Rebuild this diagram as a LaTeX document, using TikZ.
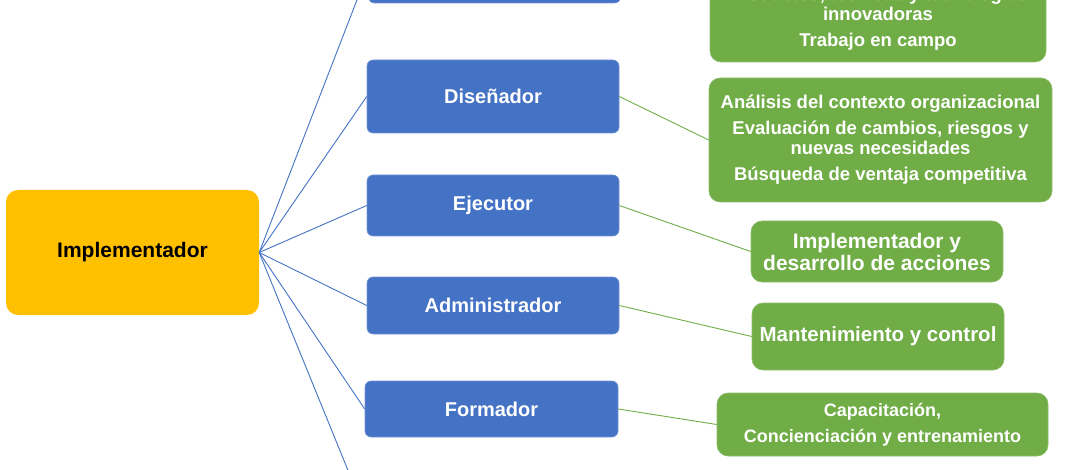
\documentclass[tikz,border=0pt]{standalone}
\usepackage{fontspec}
\setmainfont{Liberation Sans}
\definecolor{RoleBlue}{HTML}{4472C4}
\definecolor{IdeaGreen}{HTML}{70AD47}
\definecolor{RootYellow}{HTML}{FFC000}
\begin{document}
\begin{tikzpicture}[x=1pt,y=-1pt,
  rootbox/.style={fill=RootYellow, rounded corners=12pt, minimum width=253pt, minimum height=125pt, inner sep=0pt,
    font=\bfseries\fontsize{21}{25}\selectfont, text=black},
  rolebox/.style={fill=RoleBlue, draw=RoleBlue!75!white, line width=0.6pt, rounded corners=6pt, text=white,
    minimum width=252pt, inner sep=0pt, font=\bfseries\fontsize{20}{24}\selectfont},
  ideabox/.style={fill=IdeaGreen, draw=IdeaGreen!80!white, line width=0.6pt, rounded corners=11pt, text=white,
    inner sep=0pt, align=center},
  ideatext/.style={text=white, inner sep=0pt, align=center},
  rootlink/.style={draw=RoleBlue, line width=0.9pt},
  idealink/.style={draw=IdeaGreen, line width=0.9pt}]
\useasboundingbox (0,0) rectangle (1070,470);
\clip (0,0) rectangle (1070,470);

% root
\node[rootbox] (root) at (132.5,252.5) {Implementador};

% roles
\node[rolebox, minimum height=64pt] (r0) at (494.5,-29) {};
\node[rolebox, minimum height=73pt] (r1) at (493,96.5) {Diseñador};
\node[rolebox, minimum height=61pt] (r2) at (493,205.5) {Ejecutor};
\node[rolebox, minimum height=57pt] (r3) at (493,305.5) {Administrador};
\node[rolebox, minimum height=56pt, minimum width=253pt] (r4) at (491.5,409) {Formador};
\coordinate (r5) at (365,512);

% ideas
\node[ideabox, minimum width=336pt, minimum height=150pt] (g0) at (878,-13) {};
\node[ideatext, font=\bfseries\fontsize{18.5}{20}\selectfont] (g0t) at (878,19)
  {Productos, técnicas y tecnologías\\innovadoras\\[6pt]Trabajo en campo};
\node[ideabox, minimum width=343pt, minimum height=124pt, font=\bfseries\fontsize{18.5}{20}\selectfont] (g1) at (880.5,140)
  {Análisis del contexto organizacional\\[6pt]Evaluación de cambios, riesgos y\\nuevas necesidades\\[6pt]Búsqueda de ventaja competitiva};
\node[ideabox, minimum width=252pt, minimum height=61pt, font=\bfseries\fontsize{21}{22}\selectfont] (g2) at (877,251.5)
  {Implementador y\\desarrollo de acciones};
\node[ideabox, minimum width=252pt, minimum height=67pt, font=\bfseries\fontsize{20.5}{24}\selectfont] (g3) at (878,336.5)
  {Mantenimiento y control};
\node[ideabox, minimum width=331pt, minimum height=63pt, font=\bfseries\fontsize{18}{26}\selectfont] (g4) at (882.5,424.5)
  {Capacitación,\\Concienciación y entrenamiento};

% root links
\foreach \r in {r0,r1,r2,r3,r4} \draw[rootlink] (root.east) -- (\r.west);
\draw[rootlink] (root.east) -- (r5);

% idea links
\draw[idealink] (r0.east) -- (g0.west);
\draw[idealink] (r1.east) -- (g1.west);
\draw[idealink] (r2.east) -- (g2.west);
\draw[idealink] (r3.east) -- (g3.west);
\draw[idealink] (r4.east) -- (g4.west);
\end{tikzpicture}
\end{document}
